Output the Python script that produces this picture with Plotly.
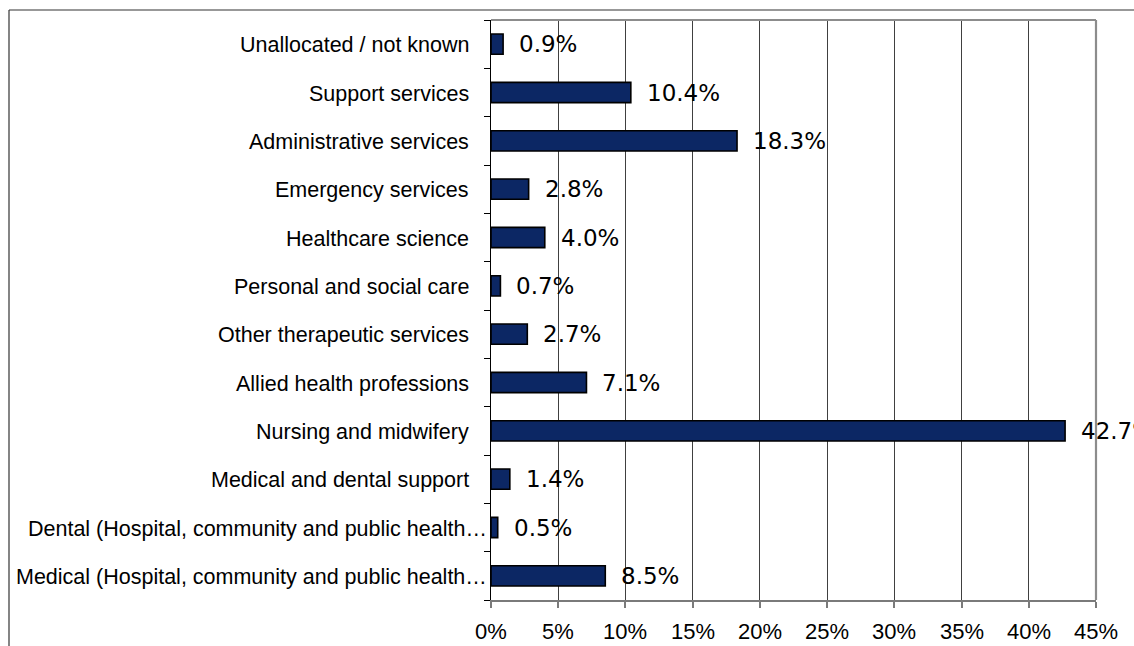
import plotly.graph_objects as go

# Staff groups, listed bottom-to-top as they appear on the axis
categories = [
    "Medical (Hospital, community and public health…",
    "Dental (Hospital, community and public health…",
    "Medical and dental support",
    "Nursing and midwifery",
    "Allied health professions",
    "Other therapeutic services",
    "Personal and social care",
    "Healthcare science",
    "Emergency services",
    "Administrative services",
    "Support services",
    "Unallocated / not known",
]
shares = [8.5, 0.5, 1.4, 42.7, 7.1, 2.7, 0.7, 4.0, 2.8, 18.3, 10.4, 0.9]
x_ticks = [0, 5, 10, 15, 20, 25, 30, 35, 40, 45]
x_tick_labels = [f"{t}%" for t in x_ticks]

W, H = 1134, 646
ML, MR, MT, MB = 491, 38, 20, 46
PW, PH = W - ML - MR, H - MT - MB

BAR_COLOR = "#0c2764"

fig = go.Figure()
fig.add_trace(go.Bar(
    x=shares,
    y=categories,
    orientation="h",
    width=0.42,
    marker=dict(color=BAR_COLOR, line=dict(color="#000000", width=1.6)),
    hoverinfo="x+y",
))

# value labels to the right of each bar
for cat, v in zip(categories, shares):
    fig.add_annotation(
        x=v, y=cat, xref="x", yref="y",
        text=f"{v:.1f}%",
        showarrow=False,
        xanchor="left", yanchor="middle",
        xshift=14,
        font=dict(family="DejaVu Sans", size=23, color="#000000"),
    )

# category labels: shortened (ellipsised) names sit flush with the axis
for cat in categories:
    fig.add_annotation(
        x=0, y=cat, xref="paper", yref="y",
        text=cat,
        showarrow=False,
        xanchor="right", yanchor="middle",
        xshift=-2 if cat.endswith("…") else -20,
        yshift=-1,
        font=dict(family="Liberation Sans", size=21.5, color="#000000"),
    )

# percentage labels under the value axis
for t, lab in zip(x_ticks, x_tick_labels):
    fig.add_annotation(
        x=t, y=0, xref="x", yref="paper",
        text=lab,
        showarrow=False,
        xanchor="center", yanchor="middle",
        yshift=-31,
        font=dict(family="Liberation Sans", size=22, color="#000000"),
    )


def px_x(p):
    return (p - ML) / PW


def px_y(p):
    return 1 - (p - MT) / PH


shapes = [
    # outer chart frame (runs off the right and bottom of the page)
    dict(type="line", xref="paper", yref="paper",
         x0=px_x(9), x1=px_x(W + 10), y0=px_y(10), y1=px_y(10),
         line=dict(color="#333333", width=1.2)),
    dict(type="line", xref="paper", yref="paper",
         x0=px_x(9), x1=px_x(9), y0=px_y(10), y1=px_y(H + 10),
         line=dict(color="#333333", width=1.2)),
    # plot area border: top and right
    dict(type="line", xref="paper", yref="paper", x0=0, x1=1, y0=1, y1=1,
         line=dict(color="#8c8c8c", width=2.2)),
    dict(type="line", xref="paper", yref="paper", x0=1, x1=1, y0=0, y1=1,
         line=dict(color="#8c8c8c", width=2.2)),
]

fig.update_layout(
    width=W, height=H,
    margin=dict(l=ML, r=MR, t=MT, b=MB, pad=0),
    paper_bgcolor="#ffffff",
    plot_bgcolor="#ffffff",
    showlegend=False,
    shapes=shapes,
    xaxis=dict(
        range=[0, 45],
        tickmode="array",
        tickvals=x_ticks,
        showgrid=True,
        gridcolor="#404040",
        gridwidth=1,
        zeroline=False,
        showline=True,
        linecolor="#7a7a7a",
        linewidth=2.4,
        ticks="outside",
        ticklen=6,
        tickcolor="#7a7a7a",
        tickwidth=1.5,
        showticklabels=False,
        fixedrange=True,
    ),
    yaxis=dict(
        type="category",
        categoryorder="array",
        categoryarray=categories,
        range=[-0.5, len(categories) - 0.5],
        showgrid=False,
        zeroline=False,
        showline=True,
        linecolor="#000000",
        linewidth=1.2,
        ticks="outside",
        tickson="boundaries",
        ticklen=6,
        tickcolor="#000000",
        tickwidth=1,
        showticklabels=False,
        fixedrange=True,
    ),
)

fig.write_html("out.html")
